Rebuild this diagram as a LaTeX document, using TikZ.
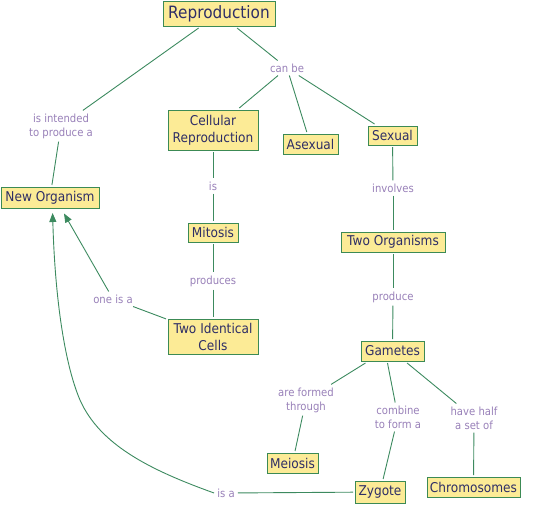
\documentclass[tikz,border=0pt]{standalone}
\usepackage{fontspec}
\setmainfont{DejaVu Sans}[FakeStretch=0.9]
\usetikzlibrary{arrows.meta}
\definecolor{boxfill}{HTML}{FCEB96}
\definecolor{boxline}{HTML}{3C8A55}
\definecolor{linkc}{HTML}{3C8A5F}
\definecolor{nodetext}{HTML}{2E2E66}
\definecolor{labtext}{HTML}{9880B8}
\begin{document}
\begin{tikzpicture}[x=1pt,y=-1pt,
 concept/.style={draw=boxline, fill=boxfill, line width=1pt, inner sep=0pt, text=nodetext,
   font=\fontsize{13.5}{17}\selectfont, align=center, outer sep=2pt},
 linkword/.style={text=labtext, font=\fontsize{11.2}{14}\selectfont, align=center, inner sep=3pt},
 link/.style={draw=linkc, line width=0.9pt},
 arrowlink/.style={link, -{Triangle[length=9pt,width=7pt]}}
]
\useasboundingbox (0,0) rectangle (536,504);
% concepts
\node[concept, minimum width=112pt, minimum height=25pt, font=\fontsize{17}{19}\selectfont] (repro) at (219,13.5) {Reproduction};
\node[concept, minimum width=90pt, minimum height=40pt] (cell) at (213,130) {Cellular\\Reproduction};
\node[concept, minimum width=55pt, minimum height=20pt] (asex) at (310.5,144) {Asexual};
\node[concept, minimum width=49pt, minimum height=19pt] (sex) at (392.5,135.5) {Sexual};
\node[concept, minimum width=98pt, minimum height=21pt] (neworg) at (50,197.5) {New Organism};
\node[concept, minimum width=50pt, minimum height=19pt] (mitosis) at (213,232.5) {Mitosis};
\node[concept, minimum width=90pt, minimum height=35pt] (twocells) at (213,336.5) {Two Identical\\Cells};
\node[concept, minimum width=104pt, minimum height=20pt] (twoorg) at (393,242) {Two Organisms};
\node[concept, minimum width=63pt, minimum height=20pt] (gametes) at (392.5,351) {Gametes};
\node[concept, minimum width=51pt, minimum height=20pt] (meiosis) at (292.5,463) {Meiosis};
\node[concept, minimum width=50pt, minimum height=22pt] (zygote) at (380,492) {Zygote};
\node[concept, minimum width=93pt, minimum height=20pt] (chromo) at (473.5,487) {Chromosomes};
% linking words
\node[linkword] (lintend) at (61,126) {is intended\\to produce a};
\node[linkword] (lcanbe) at (287,68) {can be};
\node[linkword] (lis) at (213,186) {is};
\node[linkword] (lproduces) at (213,281) {produces};
\node[linkword] (loneis) at (113,299) {one is a};
\node[linkword] (linvolves) at (393,188) {involves};
\node[linkword] (lproduce) at (393,297) {produce};
\node[linkword] (lformed) at (306,400) {are formed\\through};
\node[linkword] (lcombine) at (398,417) {combine\\to form a};
\node[linkword] (lhalf) at (474,418) {have half\\a set of};
\node[linkword] (lisa) at (226,493) {is a};
% connectors
\draw[link] (repro) -- (lintend);
\draw[link] (lintend) -- (neworg);
\draw[link] (repro) -- (lcanbe);
\draw[link] (lcanbe) -- (cell);
\draw[link] (lcanbe) -- (asex);
\draw[link] (lcanbe) -- (sex);
\draw[link] (cell) -- (lis);
\draw[link] (lis) -- (mitosis);
\draw[link] (mitosis) -- (lproduces);
\draw[link] (lproduces) -- (twocells);
\draw[link] (twocells) -- (loneis);
\draw[arrowlink, shorten >=4pt] (loneis) -- ([xshift=12pt]neworg.south);
\draw[link] (sex) -- (linvolves);
\draw[link] (linvolves) -- (twoorg);
\draw[link] (twoorg) -- (lproduce);
\draw[link] (lproduce) -- (gametes);
\draw[link] ([xshift=-27pt]gametes.south) -- (lformed);
\draw[link] (lformed) -- (meiosis);
\draw[link] ([xshift=-5pt]gametes.south) -- (lcombine);
\draw[link] (lcombine) -- (zygote);
\draw[link] (gametes) -- (lhalf);
\draw[link] (lhalf) -- (chromo);
\draw[link] (zygote) -- (lisa);
\draw[arrowlink, shorten >=3pt] (lisa.west) .. controls (150,470) and (100,445) .. (80,400)
   .. controls (65,365) and (55,300) .. ([xshift=2.5pt]neworg.south);
\end{tikzpicture}
\end{document}
